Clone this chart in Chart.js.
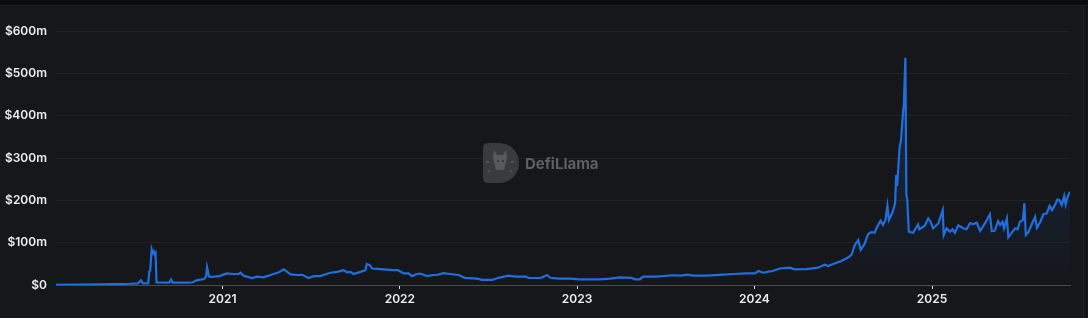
<!DOCTYPE html>
<html>
<head>
<meta charset="utf-8">
<script src="https://cdn.jsdelivr.net/npm/chart.js@4.4.1/dist/chart.umd.min.js"></script>
<style>
  html, body { margin: 0; padding: 0; background: #16171a; overflow: hidden; }
  #wrap { position: relative; width: 1088px; height: 318px; }
  #topbar { position: absolute; left: 0; top: 0; width: 1088px; height: 5px; background: #0b0c0e; border-bottom: 1px solid #1d1e21; }
  #side { position: absolute; left: 1083px; top: 6px; width: 5px; height: 312px; background: #131416; border-left: 1px solid #222326; }
</style>
</head>
<body>
<div id="wrap">
  <canvas id="mychart" width="1088" height="318"></canvas>
  <div id="topbar"></div>
  <div id="side"></div>
</div>
<script>
var dates = [
  "2020-01-24", "2020-03-14", "2020-04-24", "2020-05-27", "2020-06-25", "2020-07-11", "2020-07-17", "2020-07-21",
  "2020-08-01", "2020-08-03", "2020-08-05", "2020-08-08", "2020-08-10", "2020-08-12", "2020-08-14", "2020-08-16",
  "2020-08-18", "2020-09-13", "2020-09-17", "2020-09-20", "2020-10-24", "2020-11-01", "2020-11-08", "2020-11-24",
  "2020-11-28", "2020-11-30", "2020-12-04", "2020-12-09", "2020-12-26",
  "2021-01-09", "2021-01-23", "2021-02-03", "2021-02-07", "2021-02-13", "2021-03-03", "2021-03-13", "2021-03-26",
  "2021-04-10", "2021-04-16", "2021-04-27", "2021-05-07", "2021-05-14", "2021-05-21", "2021-06-03", "2021-06-14",
  "2021-06-27", "2021-07-08", "2021-07-21", "2021-08-11", "2021-08-25", "2021-09-07", "2021-09-14", "2021-09-21",
  "2021-09-28", "2021-10-12", "2021-10-22", "2021-10-25", "2021-10-31", "2021-11-05", "2021-11-15", "2021-11-28",
  "2021-12-19", "2021-12-28",
  "2022-01-09", "2022-01-19", "2022-01-26", "2022-02-05", "2022-02-12", "2022-02-26", "2022-03-11", "2022-03-18",
  "2022-04-01", "2022-04-15", "2022-05-02", "2022-05-15", "2022-06-09", "2022-06-19", "2022-07-10", "2022-07-23",
  "2022-08-13", "2022-08-27", "2022-09-17", "2022-09-23", "2022-10-18", "2022-10-31", "2022-11-07", "2022-11-24",
  "2022-12-18",
  "2023-01-07", "2023-01-28", "2023-02-17", "2023-03-10", "2023-03-30", "2023-04-23", "2023-04-30", "2023-05-10",
  "2023-05-17", "2023-06-14", "2023-07-18", "2023-08-04", "2023-08-15", "2023-08-28", "2023-09-25", "2023-10-29",
  "2023-11-19", "2023-12-16",
  "2024-01-02", "2024-01-10", "2024-01-19", "2024-02-02", "2024-02-08", "2024-02-22", "2024-03-14", "2024-03-24",
  "2024-04-17", "2024-05-11", "2024-05-25", "2024-06-01", "2024-06-11", "2024-06-28", "2024-07-12", "2024-07-19",
  "2024-07-26", "2024-08-02", "2024-08-07", "2024-08-15", "2024-08-22", "2024-08-29", "2024-09-05", "2024-09-10",
  "2024-09-17", "2024-09-22", "2024-09-27", "2024-10-01", "2024-10-04", "2024-10-12", "2024-10-17", "2024-10-19",
  "2024-10-21", "2024-10-26", "2024-10-29", "2024-11-02", "2024-11-04", "2024-11-07", "2024-11-09", "2024-11-11",
  "2024-11-14", "2024-11-23", "2024-12-03", "2024-12-06", "2024-12-17", "2024-12-24", "2024-12-29",
  "2025-01-03", "2025-01-14", "2025-01-23", "2025-01-25", "2025-01-31", "2025-02-07", "2025-02-12", "2025-02-17",
  "2025-02-24", "2025-03-06", "2025-03-13", "2025-03-20", "2025-03-27", "2025-04-03", "2025-04-10", "2025-04-20",
  "2025-04-30", "2025-05-04", "2025-05-10", "2025-05-17", "2025-05-21", "2025-05-26", "2025-05-29", "2025-06-04",
  "2025-06-07", "2025-06-14", "2025-06-21", "2025-06-26", "2025-07-01", "2025-07-07", "2025-07-10", "2025-07-13",
  "2025-07-18", "2025-07-25", "2025-08-01", "2025-08-05", "2025-08-12", "2025-08-18", "2025-08-25", "2025-08-31",
  "2025-09-05", "2025-09-12", "2025-09-16", "2025-09-20", "2025-09-25", "2025-09-30", "2025-10-03", "2025-10-07",
  "2025-10-12"
];

// TVL in millions of USD
var tvl = [
  0.3, 0.8, 1.5, 2, 3, 4, 11, 4,
  4.5, 31, 35, 84, 76, 80, 73, 76,
  6, 5.5, 13, 5.5, 5.5, 6.5, 11, 14,
  20, 42, 20, 19, 21,
  27.5, 26, 26, 29, 22, 16.5, 19.6, 18,
  23.6, 26, 30, 37, 31, 25, 23.6, 24,
  16.5, 21, 21, 29, 31, 35, 30, 31,
  26, 31, 35, 49.6, 47, 39, 38, 37,
  35, 35,
  27.5, 27.5, 21, 26, 27, 21, 23.6, 23.6,
  28, 26, 23.6, 17, 15, 12, 12, 17,
  22, 20, 20, 16.5, 16.5, 23.6, 17, 15,
  15,
  13.5, 13.5, 13.5, 15, 18, 17, 13.5, 13.5,
  20, 20, 23, 22, 24.6, 22, 22, 24.6,
  26, 27.5,
  27.5, 33, 29, 32, 33, 39, 41, 37,
  37.5, 41, 48, 45, 49.6, 56.7, 65, 71,
  94.5, 106, 83, 97, 120, 125, 124, 138,
  152, 142, 153.5, 187, 153.5, 173, 194, 260,
  234, 323, 342.5, 405.6, 429, 537, 212.6, 201,
  126, 123.5, 143, 131.6, 140, 157.5, 149.5,
  134, 146, 177, 118, 134, 126, 131.6, 123.5,
  141, 134, 131.6, 146, 144, 147, 128, 146,
  167, 127.6, 128, 151, 142, 149.5, 134, 157.5,
  112.7, 123.5, 134, 131.6, 149.5, 153.5, 193, 118,
  124.5, 143, 161, 135, 149.5, 167, 169, 187,
  177, 191, 202, 201, 189, 210, 190.6, 208.6,
  220
];

// Tick labels along x-axis
var years = [2021, 2022, 2023, 2024, 2025];

var points = dates.map(function (d, i) {
  return { x: Date.parse(d), y: tvl[i] };
});

// DefiLlama watermark in the middle of the plot
var watermark = {
  id: 'watermark',
  beforeDatasetsDraw: function (chart) {
    var c = chart.ctx;
    var left = 483, top = 143, h = 40, r = 20;
    c.save();
    c.fillStyle = '#3a3b3d';
    c.beginPath();
    c.moveTo(left + 5, top);
    c.lineTo(left + 16, top);
    c.arc(left + 16, top + r, r, -Math.PI / 2, Math.PI / 2);
    c.lineTo(left + 5, top + h);
    c.quadraticCurveTo(left, top + h, left, top + h - 5);
    c.lineTo(left, top + 5);
    c.quadraticCurveTo(left, top, left + 5, top);
    c.fill();
    // llama head
    c.fillStyle = '#58595b';
    c.beginPath();
    c.moveTo(494, 150); c.lineTo(497, 155); c.lineTo(503, 155); c.lineTo(506, 150);
    c.lineTo(507, 158); c.lineTo(504, 170); c.lineTo(496, 170); c.lineTo(493, 158);
    c.closePath();
    c.fill();
    c.fillStyle = '#3a3b3d';
    c.fillRect(497, 160, 2, 2);
    c.fillRect(502, 160, 2, 2);
    c.strokeStyle = '#58595b';
    c.lineWidth = 1.5;
    c.beginPath();
    c.moveTo(486, 162); c.lineTo(489, 162);
    c.moveTo(488, 172); c.lineTo(490, 170);
    c.moveTo(511, 162); c.lineTo(514, 162);
    c.moveTo(510, 170); c.lineTo(512, 172);
    c.stroke();
    c.fillStyle = '#5e5f61';
    c.font = 'bold 15px Inter, "Open Sans", sans-serif';
    c.textBaseline = 'alphabetic';
    c.fillText('DefiLlama', 525, 169);
    c.restore();
  }
};

var ctx = document.getElementById('mychart');

var mychart = new Chart(ctx, {
  type: 'line',
  data: {
    datasets: [
      {
        data: points,
        label: 'TVL',
        borderColor: '#1f6fde',
        borderWidth: 2.2,
        pointRadius: 0,
        tension: 0,
        fill: 'origin',
        backgroundColor: function (context) {
          var area = context.chart.chartArea;
          if (!area) return 'rgba(33,114,229,0.05)';
          var g = context.chart.ctx.createLinearGradient(0, area.top, 0, area.bottom);
          g.addColorStop(0, 'rgba(33,114,229,0.28)');
          g.addColorStop(1, 'rgba(33,114,229,0)');
          return g;
        }
      }
    ]
  },
  options: {
    responsive: false,
    animation: false,
    devicePixelRatio: 1,
    layout: { padding: { left: 0, right: 18, top: 31, bottom: 0 } },
    plugins: {
      legend: { display: false },
      tooltip: { enabled: false }
    },
    scales: {
      x: {
        type: 'linear',
        min: Date.parse(dates[0]),
        max: Date.parse(dates[dates.length - 1]),
        afterBuildTicks: function (scale) {
          scale.ticks = years.map(function (y) { return { value: Date.UTC(y, 0, 1) }; });
        },
        afterFit: function (scale) { scale.height = 33; },
        grid: {
          drawOnChartArea: false,
          drawTicks: true,
          tickLength: 4,
          tickColor: '#e0e0e0'
        },
        border: { display: true, color: '#4b4c4f', width: 1 },
        ticks: {
          color: '#ececec',
          padding: 3,
          maxRotation: 0,
          autoSkip: false,
          font: { family: 'Inter, "Open Sans", sans-serif', size: 12, weight: '600' },
          callback: function (v) { return String(new Date(v).getUTCFullYear()); }
        }
      },
      y: {
        min: 0,
        max: 600,
        afterFit: function (scale) { scale.width = 56; },
        grid: { color: '#202124', drawTicks: false },
        border: { display: false },
        ticks: {
          stepSize: 100,
          color: '#ececec',
          padding: 9,
          font: { family: 'Inter, "Open Sans", sans-serif', size: 12, weight: '600' },
          callback: function (v) { return v === 0 ? '$0' : '$' + v + 'm'; }
        }
      }
    }
  },
  plugins: [watermark]
});
</script>
</body>
</html>
